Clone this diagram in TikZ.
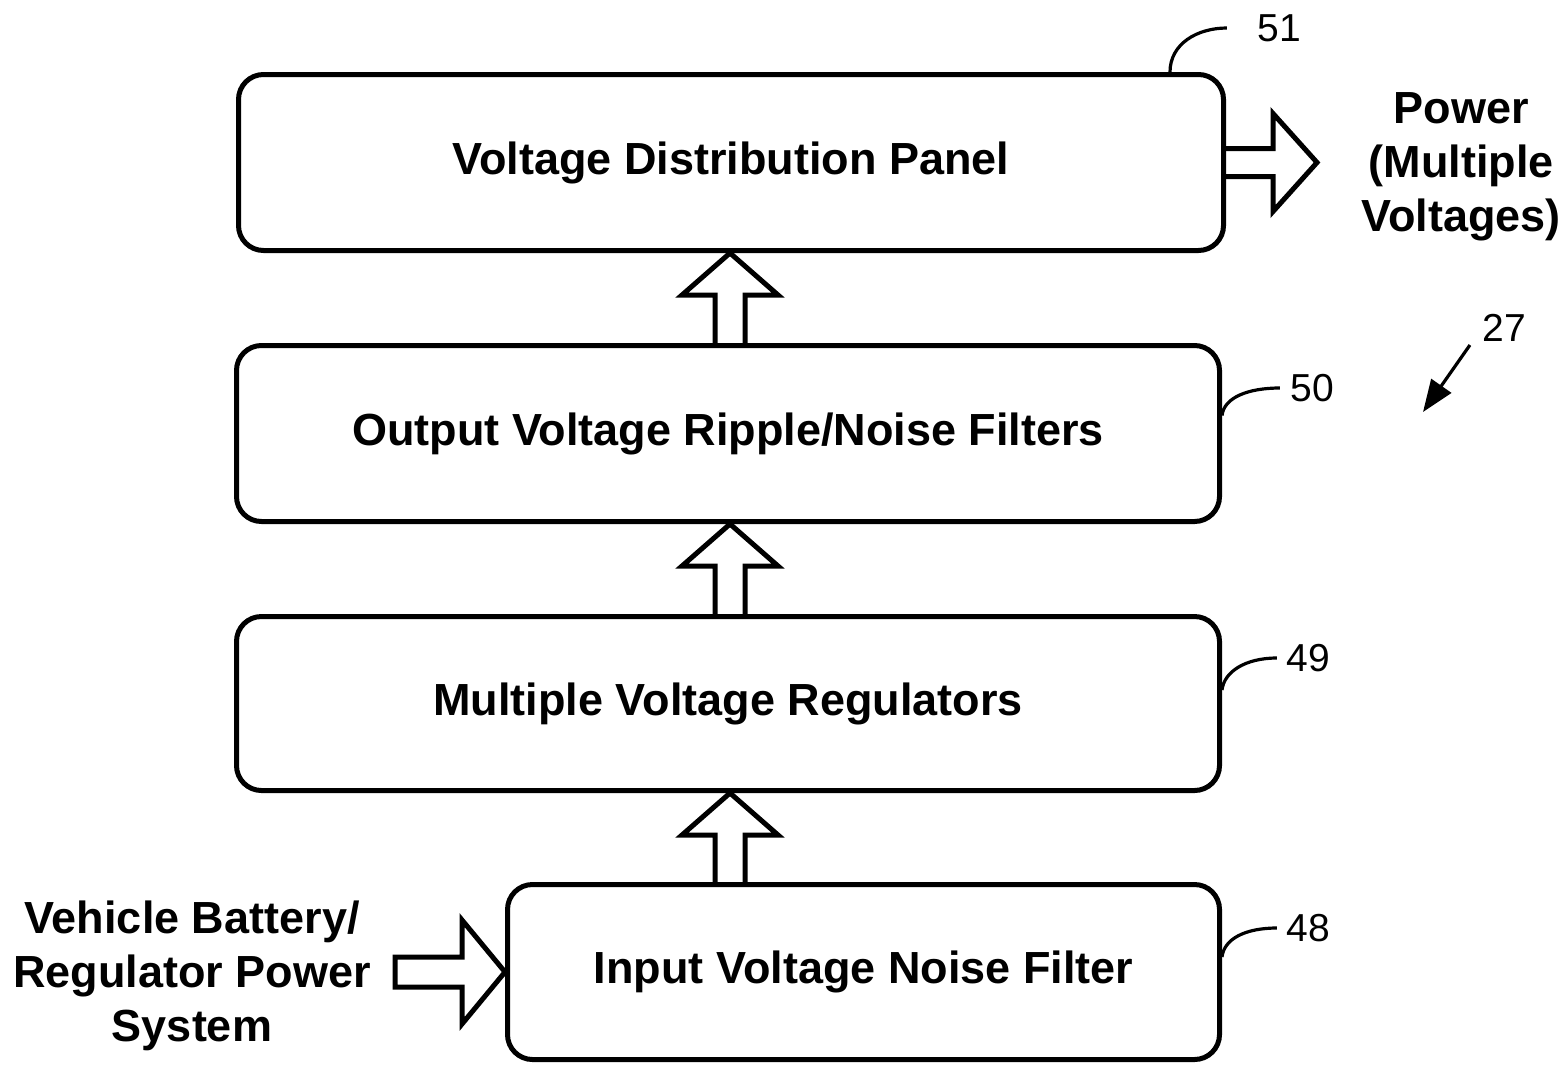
\documentclass[tikz,border=0pt]{standalone}
\usepackage{fontspec}
\setmainfont{Liberation Sans}
\usetikzlibrary{calc,arrows.meta}
\newcommand\upblk[2]{%
  \coordinate (bt) at (#1.north -| ax);
  \coordinate (tp) at (#2.south -| ax);
  \draw[barrow] ($(bt)+(-15,0)$) -- ($(tp)+(-15,42)$) -- ($(tp)+(-48,42)$) -- (tp)
    -- ($(tp)+(48,42)$) -- ($(tp)+(15,42)$) -- ($(bt)+(15,0)$);}
\begin{document}
\begin{tikzpicture}[x=0.5pt,y=-0.5pt,
  box/.style={draw, line width=2.5pt, rounded corners=12.5pt, inner sep=0pt,
    font=\fontsize{22.5}{27}\selectfont\bfseries},
  barrow/.style={draw, line width=2.5pt, line join=miter, miter limit=10},
  leader/.style={draw, line width=1.6pt},
  num/.style={font=\fontsize{19.5}{22}\selectfont, inner sep=0pt},
  side/.style={font=\fontsize{22.5}{27}\selectfont\bfseries, align=center, inner sep=0pt}]
\useasboundingbox (0,0) rectangle (1566,1066);
\coordinate (ax) at (730,0);
% boxes
\node[box, minimum width=492.5pt, minimum height=88pt] (b51) at (731,162.5) {\raisebox{-1pt}{Voltage Distribution Panel}};
\node[box, minimum width=491.5pt, minimum height=88pt] (b50) at (728,433.5) {\raisebox{-1pt}{Output Voltage Ripple/Noise Filters}};
\node[box, minimum width=491.5pt, minimum height=87pt] (b49) at (728,703.5) {\raisebox{-1pt}{Multiple Voltage Regulators}};
\node[box, minimum width=356pt, minimum height=87.5pt] (b48) at (863.5,972) {\raisebox{-1pt}{Input Voltage Noise Filter}};
% side texts
\node[side] (pwr) at (1461,167) {Power\\(Multiple\\Voltages)};
\node[side] (veh) at (192,976) {Vehicle Battery/\\Regulator Power\\System};
% block arrows between boxes
\upblk{b50}{b51}
\upblk{b49}{b50}
\upblk{b48}{b49}
% output arrow
\coordinate (pw) at (1317,162.5);
\draw[barrow] ($(b51.east)+(0,-14)$) -- ($(pw)+(-44,-14)$) -- ($(pw)+(-44,-49)$) -- (pw)
  -- ($(pw)+(-44,49)$) -- ($(pw)+(-44,14)$) -- ($(b51.east)+(0,14)$);
% input arrow
\coordinate (inp) at (395,972);
\draw[barrow] ($(inp)+(0,-15)$) -- ($(b48.west)+(-43,-15)$) -- ($(b48.west)+(-43,-52)$) -- (b48.west)
  -- ($(b48.west)+(-43,52)$) -- ($(b48.west)+(-43,15)$) -- ($(inp)+(0,15)$) -- cycle;
% reference numbers
\node[num] (n51) at (1279,28) {51};
\node[num] (n50) at (1312,388) {50};
\node[num] (n49) at (1308,658) {49};
\node[num] (n48) at (1308,928) {48};
\node[num] (n27) at (1504,328) {27};
\draw[leader] ($(b51.north)+(439,0)$) .. controls +(0,-28) and +(-30,0) .. ($(n51.west)+(-30,0)$);
\draw[leader] ($(b50.east)+(0,-18)$) .. controls +(2,-18) and +(-32,0) .. ($(n50.west)+(-10,0)$);
\draw[leader] ($(b49.east)+(0,-13.5)$) .. controls +(2,-18) and +(-32,0) .. ($(n49.west)+(-9,0)$);
\draw[leader] ($(b48.east)+(0,-15)$) .. controls +(2,-18) and +(-32,0) .. ($(n48.west)+(-9,0)$);
\coordinate (t27) at (1423,412);
\draw[leader, -{Triangle[length=16pt,width=12pt]}] ($(n27.south west)+(-12,3)$) -- (t27);
\end{tikzpicture}
\end{document}
